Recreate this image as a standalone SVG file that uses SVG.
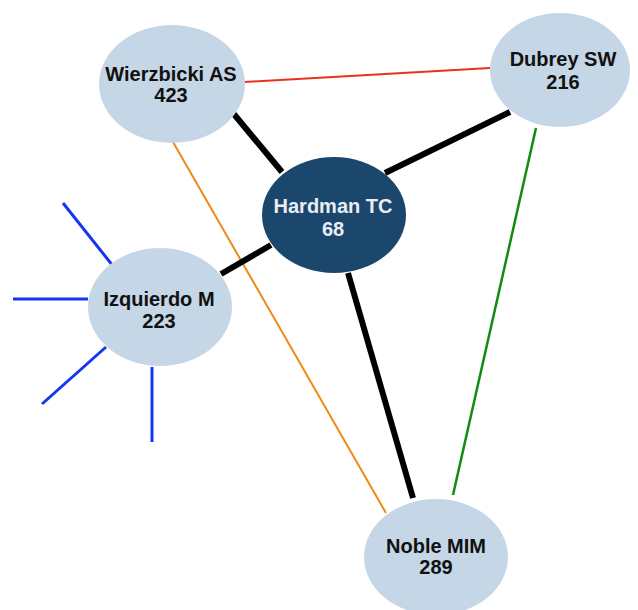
<svg xmlns="http://www.w3.org/2000/svg" width="638" height="610" viewBox="0 0 638 610">
<style>
.n{fill:#c5d6e6}
.hub{fill:#1b476d}
.t{font-family:"Liberation Sans",Arial,sans-serif;font-weight:bold;font-size:20px;text-anchor:middle;fill:#111}
.th{fill:#e9eef4}
.e{fill:none;stroke-linecap:butt}
.k{stroke:#000;stroke-width:6}
.b{stroke:#1436f0;stroke-width:3}
</style>
<rect width="638" height="610" fill="#fff"/>
<g id="connectors">
<line class="e" x1="245" y1="82" x2="490" y2="68" stroke="#e8341a" stroke-width="2"/>
<line class="e" x1="173" y1="142" x2="386" y2="513" stroke="#ee8a16" stroke-width="2"/>
<line class="e" x1="536" y1="128" x2="453" y2="495" stroke="#118c11" stroke-width="2.5"/>
<line class="e k" x1="233" y1="113" x2="282" y2="172"/>
<line class="e k" x1="510" y1="112" x2="385" y2="173"/>
<line class="e k" x1="221" y1="274" x2="271" y2="245"/>
<line class="e k" x1="348" y1="273" x2="413" y2="498"/>
<line class="e b" x1="63" y1="203" x2="113" y2="266"/>
<line class="e b" x1="13" y1="299" x2="88" y2="299"/>
<line class="e b" x1="42" y1="404" x2="106" y2="347"/>
<line class="e b" x1="152" y1="367" x2="152" y2="442"/>
</g>
<g id="wierzbicki">
<ellipse class="n" cx="172" cy="84" rx="73" ry="59"/>
<text class="t" x="171" y="81">Wierzbicki AS</text>
<text class="t" x="171" y="102">423</text>
</g>
<g id="dubrey">
<ellipse class="n" cx="560" cy="70" rx="70" ry="57"/>
<text class="t" x="563" y="66">Dubrey SW</text>
<text class="t" x="563" y="89">216</text>
</g>
<g id="hardman">
<ellipse class="hub" cx="334" cy="215" rx="72" ry="58"/>
<text class="t th" x="333" y="213">Hardman TC</text>
<text class="t th" x="333" y="236">68</text>
</g>
<g id="izquierdo">
<ellipse class="n" cx="160" cy="307" rx="72" ry="59"/>
<text class="t" x="159" y="306">Izquierdo M</text>
<text class="t" x="159" y="328">223</text>
</g>
<g id="noble">
<ellipse class="n" cx="436" cy="557" rx="72" ry="58"/>
<text class="t" x="436" y="553">Noble MIM</text>
<text class="t" x="436" y="574">289</text>
</g>
</svg>
